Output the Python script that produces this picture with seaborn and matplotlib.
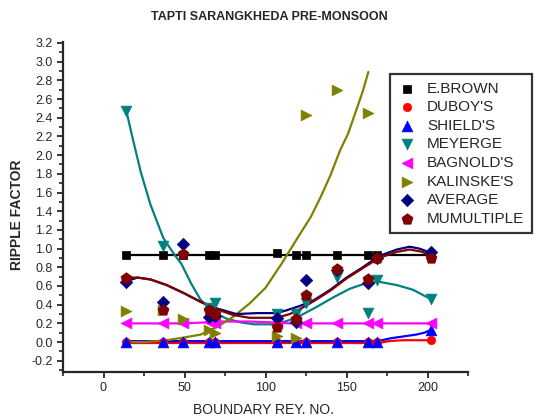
import numpy as np
import pandas as pd
import seaborn as sns
import matplotlib.pyplot as plt
from matplotlib.ticker import MultipleLocator

# boundary reynolds numbers shared by all methods
x_pts = [14, 37, 49, 65, 69, 107, 119, 125, 144, 163, 169, 202]

brown = [0.93, 0.93, 0.93, 0.93, 0.93, 0.95, 0.93, 0.93, 0.93, 0.93, 0.93, 0.93]
duboy = [0.0, 0.0, 0.0, 0.0, 0.0, 0.0, 0.0, 0.0, 0.0, 0.0, 0.0, 0.02]
shield = [0.0, 0.0, 0.0, 0.0, 0.0, 0.0, 0.0, 0.0, 0.0, 0.0, 0.0, 0.13]
meyerge = [2.47, 1.03, 4.9, 0.36, 0.42, 0.30, 0.30, 0.42, 0.70, 0.31, 0.66, 0.46]
bagnold = [0.2, 0.2, 0.2, 0.21, 0.2, 0.2, 0.2, 0.2, 0.2, 0.2, 0.2, 0.2]
kalinske = [0.33, 0.34, 0.25, 0.13, 0.10, 0.06, 0.04, 2.43, 2.70, 2.45, 3.6, 4.0]
average = [0.645, 0.43, 1.05, 0.27, 0.28, 0.26, 0.22, 0.66, 0.77, 0.63, 0.90, 0.96]
mumultiple = [0.69, 0.34, 0.94, 0.34, 0.30, 0.16, 0.25, 0.50, 0.78, 0.68, 0.90, 0.90]

# smoothed curves
brown_cx = [14, 203]
brown_cy = [0.93, 0.93]
duboy_cx = [14, 60, 110, 170, 176, 185, 203]
duboy_cy = [-0.01, -0.01, -0.01, -0.01, 0.01, 0.02, 0.02]
shield_cx = [14, 60, 110, 165, 172, 177, 185, 193, 198, 202]
shield_cy = [0.01, 0.01, 0.01, 0.01, 0.02, 0.04, 0.06, 0.08, 0.10, 0.13]
meyerge_cx = [14, 18, 23, 29, 37, 44, 48, 54, 60, 68, 76, 85, 93, 107, 119,
              132, 142, 152, 162, 170, 181, 191, 202]
meyerge_cy = [2.48, 2.18, 1.82, 1.47, 1.11, 0.93, 0.84, 0.63, 0.45, 0.32, 0.25,
              0.21, 0.19, 0.19, 0.26, 0.38, 0.48, 0.57, 0.63, 0.645, 0.61, 0.56, 0.46]
bagnold_cx = [14, 50, 62, 70, 90, 105, 115, 125, 203]
bagnold_cy = [0.2, 0.2, 0.21, 0.22, 0.22, 0.21, 0.2, 0.2, 0.2]
kalinske_cx = [14, 25, 39, 50, 60, 70, 80, 90, 100, 110, 120, 128, 134, 140,
               146, 151, 156, 160, 163.5]
kalinske_cy = [0.0, 0.0, 0.02, 0.05, 0.08, 0.16, 0.27, 0.41, 0.58, 0.84, 1.12,
               1.34, 1.55, 1.78, 2.05, 2.23, 2.48, 2.68, 2.89]
average_cx = [14, 21, 29, 39, 50, 60, 70, 82, 95, 107, 113, 121, 130, 140, 150,
              160, 170, 181, 189, 195, 202]
average_cy = [0.65, 0.69, 0.67, 0.61, 0.52, 0.43, 0.36, 0.30, 0.31, 0.31, 0.34,
              0.385, 0.45, 0.56, 0.69, 0.80, 0.92, 0.99, 1.02, 1.0, 0.955]
mum_cx = [14, 21, 29, 39, 50, 60, 70, 80, 90, 107, 115, 121, 130, 140, 150,
          160, 170, 181, 189, 197, 202]
mum_cy = [0.69, 0.69, 0.67, 0.61, 0.52, 0.43, 0.35, 0.29, 0.26, 0.26, 0.30,
          0.35, 0.44, 0.55, 0.68, 0.79, 0.90, 0.965, 0.99, 0.965, 0.90]

series = [
    ("E.BROWN", brown, brown_cx, brown_cy, "black", "s", 38),
    ("DUBOY'S", duboy, duboy_cx, duboy_cy, "#ff0000", "o", 36),
    ("SHIELD'S", shield, shield_cx, shield_cy, "#0000ff", "^", 60),
    ("MEYERGE", meyerge, meyerge_cx, meyerge_cy, "#008080", "v", 60),
    ("BAGNOLD'S", bagnold, bagnold_cx, bagnold_cy, "#ff00ff", "<", 60),
    ("KALINSKE'S", kalinske, kalinske_cx, kalinske_cy, "#808000", ">", 60),
    ("AVERAGE", average, average_cx, average_cy, "#000080", "D", 40),
    ("MUMULTIPLE", mumultiple, mum_cx, mum_cy, "#800000", "p", 70),
]

sns.set_style("ticks")
plt.rcParams['font.family'] = ['Liberation Sans', 'DejaVu Sans']

fig = plt.figure(figsize=(5.38, 4.19), dpi=100)
ax = fig.add_axes([63 / 538, 1 - 372 / 419, 405 / 538, 330 / 419])

for name, vals, cx, cy, col, mk, sz in series:
    sns.lineplot(x=cx, y=cy, color=col, lw=1.6, ax=ax, legend=False,
                 estimator=None, sort=False)
    df = pd.DataFrame({'x': x_pts, 'y': vals})
    sns.scatterplot(data=df, x='x', y='y', color=col, marker=mk, s=sz,
                    edgecolor=col, linewidth=0.5, label=name, ax=ax, zorder=3)

ax.set_xlim(-25, 225)
ax.set_ylim(-0.32, 3.21)
ax.xaxis.set_major_locator(MultipleLocator(50))
ax.xaxis.set_minor_locator(MultipleLocator(25))
ax.yaxis.set_minor_locator(MultipleLocator(0.1))
ax.set_yticks(np.arange(-0.2, 3.21, 0.2))
ax.set_yticklabels([f"{v:.1f}" for v in np.arange(-0.2, 3.21, 0.2)])
ax.tick_params(which='major', direction='out', length=4, width=1.3, labelsize=9)
ax.tick_params(which='minor', direction='out', length=3, width=1.2)
sns.despine(ax=ax)
for sp in ['left', 'bottom']:
    ax.spines[sp].set_linewidth(1.6)
ax.set_xlabel("")
ax.set_ylabel("")

fig.text(269 / 538, 1 - 17 / 419, "TAPTI SARANGKHEDA PRE-MONSOON",
         ha='center', va='center', fontsize=9, fontweight='bold')
fig.text(263 / 538, 1 - 410 / 419, "BOUNDARY REY. NO.", ha='center',
         va='center', fontsize=10)
fig.text(17 / 538, 1 - 215 / 419, "RIPPLE FACTOR", ha='center', va='center',
         rotation=90, fontsize=10, fontweight='bold')

leg = ax.legend(loc='upper right', bbox_to_anchor=(1.158, 0.903), fontsize=11,
                frameon=True, fancybox=False, edgecolor='black',
                labelspacing=0.3, handlelength=1.2, handletextpad=0.7,
                borderpad=0.5, scatterpoints=1, borderaxespad=0)
leg.get_frame().set_linewidth(1.6)

fig.savefig("out.png", dpi=100)
